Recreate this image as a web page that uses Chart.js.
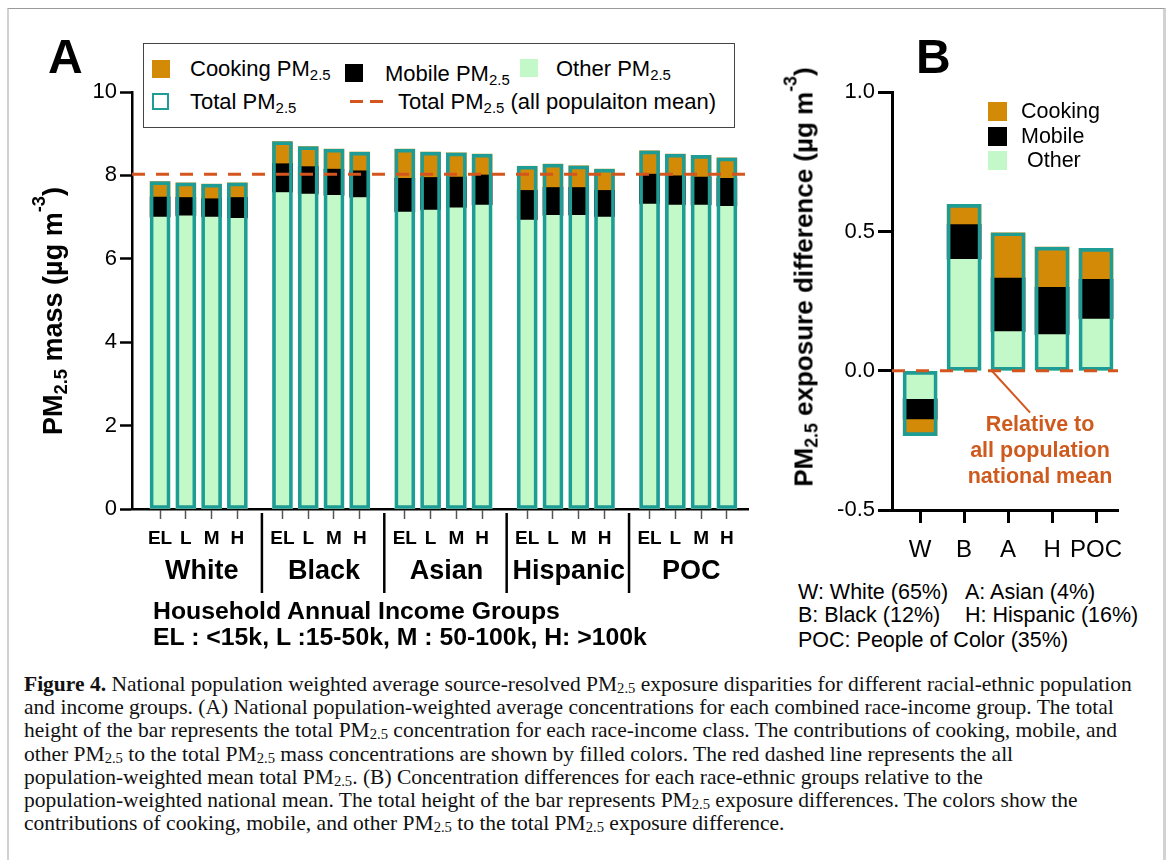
<!DOCTYPE html>
<html>
<head>
<meta charset="utf-8">
<script src="https://cdn.jsdelivr.net/npm/chart.js@4.4.1/dist/chart.umd.min.js"></script>
<style>
  body { margin: 0; background: #fff; font-family: Arial, "Liberation Sans", sans-serif; color: #000; }
  #page { position: relative; width: 1168px; height: 860px; overflow: hidden; background: #fff; }
  #frame { position: absolute; left: 7px; top: 8px; width: 1154px; height: 870px;
           border-top: 1px solid #9a9a9a; border-left: 2px solid #d2d2d2; border-right: 3px solid #d2d2d2; }
  canvas { position: absolute; }
  .abs { position: absolute; white-space: nowrap; }
  .panel { font-weight: bold; font-size: 48px; line-height: 1; }
  .sw { position: absolute; width: 18px; height: 18px; }
  .lg { position: absolute; font-size: 22px; line-height: 22px; white-space: nowrap; }
  .lg sub, .ytitle sub { font-size: 0.68em; vertical-align: -0.3em; line-height: 0; }
  .ytitle { position: absolute; font-weight: bold; white-space: nowrap; transform: translate(-50%, -50%) rotate(-90deg); }
  .ytitle sup { font-size: 0.68em; vertical-align: 0.9em; line-height: 0; }
  .note { position: absolute; font-size: 21.5px; line-height: 22px; white-space: nowrap; }
  #caption { position: absolute; left: 24px; top: 673px; font-family: "Liberation Serif", "Times New Roman", serif;
             font-size: 21.5px; line-height: 23.2px; white-space: nowrap; color: #111; }
  #caption sub { font-size: 0.68em; vertical-align: -0.15em; line-height: 0; }
</style>
</head>
<body>
<div id="page">
  <div id="frame"></div>
  <canvas id="chartA" width="780" height="560" style="left:0;top:60px"></canvas>
  <canvas id="chartB" width="388" height="520" style="left:780px;top:60px"></canvas>

  <div class="abs panel" style="left:48px;top:33px">A</div>
  <div class="abs panel" style="left:916px;top:33px">B</div>

  <div class="ytitle" style="left:53px;top:311px;font-size:27px">PM<sub>2.5</sub> mass (µg m<sup>-3</sup>)</div>
  <div class="ytitle" style="left:804px;top:277px;font-size:26px">PM<sub>2.5</sub> exposure difference (µg m<sup>-3</sup>)</div>

  <!-- legend panel A -->
  <div class="abs" style="left:143px;top:43px;width:590px;height:83px;border:1.5px solid #444;background:#fff"></div>
  <div class="sw" style="left:152px;top:60px;background:#d38b07"></div>
  <div class="lg" style="left:190px;top:58px">Cooking PM<sub>2.5</sub></div>
  <div class="sw" style="left:345px;top:64px;background:#000"></div>
  <div class="lg" style="left:385px;top:63px">Mobile PM<sub>2.5</sub></div>
  <div class="sw" style="left:520px;top:59px;background:#c3f9c8"></div>
  <div class="lg" style="left:556px;top:58px">Other PM<sub>2.5</sub></div>
  <div class="sw" style="left:152px;top:93px;width:13px;height:13px;border:2.5px solid #1e9c96;background:#fff"></div>
  <div class="abs" style="left:350px;top:100px;width:13px;height:3px;background:#d4561e"></div>
  <div class="abs" style="left:370px;top:100px;width:13px;height:3px;background:#d4561e"></div>
  <div class="lg" style="left:190px;top:91px">Total PM<sub>2.5</sub></div>
  <div class="lg" style="left:398px;top:91px">Total PM<sub>2.5</sub> (all populaiton mean)</div>

  <!-- legend panel B -->
  <div class="sw" style="left:988px;top:102px;width:19px;height:19px;background:#d38b07"></div>
  <div class="note" style="left:1021px;top:100px">Cooking</div>
  <div class="sw" style="left:988px;top:127px;width:19px;height:19px;background:#000"></div>
  <div class="note" style="left:1021px;top:125px">Mobile</div>
  <div class="sw" style="left:988px;top:151px;width:19px;height:19px;background:#c3f9c8"></div>
  <div class="note" style="left:1027px;top:149px">Other</div>

  <div class="abs" style="left:1040px;top:411px;transform:translateX(-50%);text-align:center;font-weight:bold;font-size:21.5px;line-height:26px;color:#cf5a1e">Relative to<br>all population<br>national mean</div>

  <div class="abs" style="left:153px;top:597px;font-weight:bold;font-size:24.8px;line-height:28px">Household Annual Income Groups</div>
  <div class="abs" style="left:153px;top:623px;font-weight:bold;font-size:24.8px;line-height:28px">EL : &lt;15k, L :15-50k, M : 50-100k, H: &gt;100k</div>

  <div class="note" style="left:798px;top:581px">W: White (65%)</div>
  <div class="note" style="left:965px;top:581px">A: Asian (4%)</div>
  <div class="note" style="left:798px;top:604px">B: Black (12%)</div>
  <div class="note" style="left:965px;top:604px">H: Hispanic (16%)</div>
  <div class="note" style="left:798px;top:629px">POC: People of Color (35%)</div>

  <div id="caption"><b>Figure 4.</b> National population weighted average source-resolved PM<sub>2.5</sub> exposure disparities for different racial-ethnic population<br>and income groups. (A) National population-weighted average concentrations for each combined race-income group. The total<br>height of the bar represents the total PM<sub>2.5</sub> concentration for each race-income class. The contributions of cooking, mobile, and<br>other PM<sub>2.5</sub> to the total PM<sub>2.5</sub> mass concentrations are shown by filled colors. The red dashed line represents the all<br>population-weighted mean total PM<sub>2.5</sub>. (B) Concentration differences for each race-ethnic groups relative to the<br>population-weighted national mean. The total height of the bar represents PM<sub>2.5</sub> exposure differences. The colors show the<br>contributions of cooking, mobile, and other PM<sub>2.5</sub> to the total PM<sub>2.5</sub> exposure difference.</div>
</div>

<script>
// Panel A: race-income groups, µg m-3 (White EL..H, Black EL..H, Asian, Hispanic, POC)
var groups = ['White', 'Black', 'Asian', 'Hispanic', 'POC'];
var incomes = ['EL', 'L', 'M', 'H'];
var cookingA = [0.37, 0.35, 0.35, 0.35, 0.53, 0.48, 0.48, 0.45, 0.70, 0.61, 0.58, 0.50, 0.58, 0.56, 0.52, 0.51, 0.56, 0.52, 0.52, 0.49];
var mobileA  = [0.48, 0.44, 0.44, 0.50, 0.69, 0.66, 0.63, 0.64, 0.81, 0.78, 0.74, 0.72, 0.71, 0.67, 0.67, 0.64, 0.72, 0.70, 0.67, 0.67];
var otherA   = [7.00, 7.03, 7.00, 6.97, 7.59, 7.55, 7.52, 7.47, 7.12, 7.17, 7.22, 7.29, 6.93, 7.04, 7.04, 7.00, 7.31, 7.29, 7.29, 7.26];
var meanA = 8.03;
var yTicksA = [0, 2, 4, 6, 8, 10];

// Panel B: difference from national mean, µg m-3
var races = ['W', 'B', 'A', 'H', 'POC'];
var cookingB = [-0.060, 0.073, 0.163, 0.144, 0.111];
var mobileB  = [-0.073, 0.125, 0.192, 0.170, 0.143];
var otherB   = [-0.100, 0.400, 0.141, 0.130, 0.186];
var yTicksB = [-0.5, 0, 0.5, 1.0];

var COOK = '#d38b07', MOB = '#000000', OTH = '#c3f9c8', TEAL = '#1e9c96', RED = '#d4561e';
var FONT = 'Arial, "Liberation Sans", sans-serif';

// group gap: 4 bars per group, groups 4.75 slots apart
var groupStep = 4.75;
var xPosA = [];
groups.forEach(function(g, gi) {
    incomes.forEach(function(inc, ii) { xPosA.push(gi * groupStep + ii); });
});
var xMinA = -1.09, xMaxA = xPosA[xPosA.length - 1] + 0.82;

function pts(xs, vals) {
    return vals.map(function(v, i) { return {x: xs[i], y: v}; });
}
function sum3(a, b, c) {
    return a.map(function(v, i) { return v + b[i] + c[i]; });
}
function barSet(label, xs, vals, color, stack, order) {
    return {
        type: 'bar', label: label, data: pts(xs, vals), backgroundColor: color,
        borderWidth: 0, stack: stack, grouped: false, order: order
    };
}
function outlineSet(xs, vals) {
    return {
        type: 'bar', label: 'Total', data: pts(xs, vals), backgroundColor: 'rgba(0,0,0,0)',
        borderColor: TEAL, borderWidth: 3, borderSkipped: false, stack: 'total', grouped: false, order: 2
    };
}
function meanLine(x0, x1, v) {
    return {
        type: 'line', label: 'mean', data: [{x: x0, y: v}, {x: x1, y: v}], borderColor: RED,
        borderWidth: 3, borderDash: [13, 11], pointRadius: 0, stack: 'mean', order: 1
    };
}
function fixTicks(list) {
    return function(scale) { scale.ticks = list.map(function(v) { return {value: v}; }); };
}

var groupLabels = {
    id: 'groupLabels',
    afterDraw: function(chart) {
        var ctx = chart.ctx, x = chart.scales.x, area = chart.chartArea;
        ctx.save();
        ctx.fillStyle = '#000';
        ctx.strokeStyle = '#000';
        ctx.lineWidth = 2.5;
        ctx.font = 'bold 27px ' + FONT;
        ctx.textAlign = 'center';
        ctx.textBaseline = 'middle';
        groups.forEach(function(g, gi) {
            ctx.fillText(g, x.getPixelForValue(gi * groupStep + 1.5) + 3, area.bottom + 63);
            if (gi > 0) {
                var sx = x.getPixelForValue(gi * groupStep - (groupStep - 3) / 2) + 2;
                ctx.beginPath();
                ctx.moveTo(sx, area.bottom + 4);
                ctx.lineTo(sx, area.bottom + 84);
                ctx.stroke();
            }
        });
        ctx.restore();
    }
};

new Chart(document.getElementById('chartA'), {
    type: 'bar',
    data: {
        datasets: [
            barSet('Other', xPosA, otherA, OTH, 'parts', 3),
            barSet('Mobile', xPosA, mobileA, MOB, 'parts', 3),
            barSet('Cooking', xPosA, cookingA, COOK, 'parts', 3),
            outlineSet(xPosA, sum3(otherA, mobileA, cookingA)),
            meanLine(xMinA, xMaxA, meanA)
        ]
    },
    options: {
        responsive: false,
        animation: false,
        layout: {padding: {top: 32, right: 32, left: 0, bottom: 0}},
        datasets: {bar: {barThickness: 20}},
        plugins: {legend: {display: false}, tooltip: {enabled: false}},
        scales: {
            x: {
                type: 'linear', min: xMinA, max: xMaxA, offset: false,
                afterBuildTicks: fixTicks(xPosA),
                afterFit: function(s) { s.height = 111; },
                grid: {drawOnChartArea: false, offset: false, tickLength: 10, tickColor: '#555', tickWidth: 1.5},
                border: {color: '#000', width: 2.5},
                ticks: {
                    autoSkip: false, maxRotation: 0, padding: 8, color: '#000',
                    font: {family: FONT, size: 19, weight: 'bold'},
                    callback: function(v, i) { return incomes[i % 4]; }
                }
            },
            y: {
                stacked: true, min: 0, max: 10,
                afterBuildTicks: fixTicks(yTicksA),
                afterFit: function(s) { s.width = 132; },
                grid: {drawOnChartArea: false, tickLength: 12, tickColor: '#000', tickWidth: 2.5},
                border: {color: '#000', width: 2.5},
                ticks: {padding: 3, color: '#000', font: {family: FONT, size: 22}}
            }
        }
    },
    plugins: [groupLabels]
});

// panel B
var xPosB = races.map(function(r, i) { return i; });

var callout = {
    id: 'callout',
    afterDraw: function(chart) {
        var ctx = chart.ctx, x = chart.scales.x, y = chart.scales.y;
        ctx.save();
        ctx.strokeStyle = RED;
        ctx.lineWidth = 2;
        ctx.beginPath();
        ctx.moveTo(x.getPixelForValue(1.63), y.getPixelForValue(0));
        ctx.lineTo(x.getPixelForValue(2.5), y.getPixelForValue(-0.15));
        ctx.stroke();
        ctx.restore();
    }
};

new Chart(document.getElementById('chartB'), {
    type: 'bar',
    data: {
        datasets: [
            barSet('Other', xPosB, otherB, OTH, 'parts', 3),
            barSet('Mobile', xPosB, mobileB, MOB, 'parts', 3),
            barSet('Cooking', xPosB, cookingB, COOK, 'parts', 3),
            outlineSet(xPosB, sum3(otherB, mobileB, cookingB)),
            meanLine(-0.64, 4.5, 0)
        ]
    },
    options: {
        responsive: false,
        animation: false,
        layout: {padding: {top: 32.4, right: 50, left: 0, bottom: 0}},
        datasets: {bar: {barThickness: 34}},
        plugins: {legend: {display: false}, tooltip: {enabled: false}},
        scales: {
            x: {
                type: 'linear', min: -0.64, max: 4.5, offset: false,
                afterBuildTicks: fixTicks(xPosB),
                afterFit: function(s) { s.height = 70; },
                grid: {drawOnChartArea: false, offset: false, tickLength: 13, tickColor: '#000', tickWidth: 3},
                border: {color: '#000', width: 3},
                ticks: {
                    autoSkip: false, maxRotation: 0, padding: 13, color: '#000',
                    font: {family: FONT, size: 24},
                    callback: function(v, i) { return races[i]; }
                }
            },
            y: {
                stacked: true, min: -0.5, max: 1.0,
                afterBuildTicks: fixTicks(yTicksB),
                afterFit: function(s) { s.width = 112; },
                grid: {drawOnChartArea: false, tickLength: 14, tickColor: '#000', tickWidth: 3},
                border: {color: '#000', width: 3},
                ticks: {
                    padding: 3, color: '#000', font: {family: FONT, size: 22},
                    callback: function(v) { return v.toFixed(1); }
                }
            }
        }
    },
    plugins: [callout]
});
</script>
</body>
</html>
